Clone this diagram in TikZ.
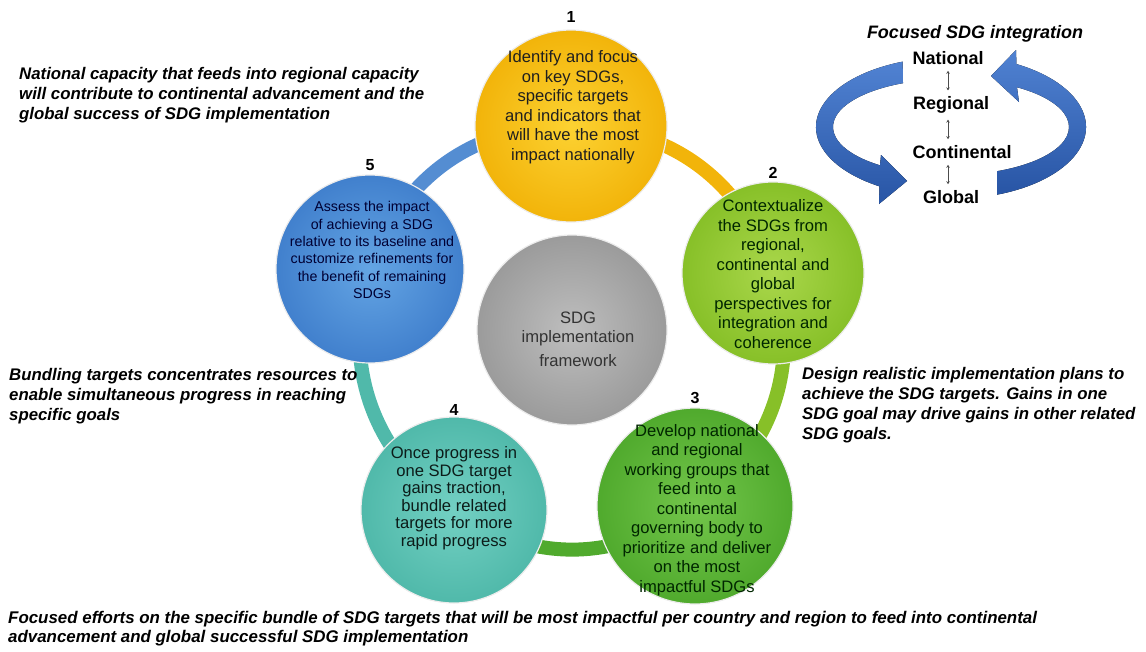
\documentclass[tikz,border=0pt]{standalone}
\usepackage{fontspec}
\setmainfont{Liberation Sans}
\usetikzlibrary{arrows.meta,positioning,calc}

\definecolor{ouroClaro}{RGB}{252,210,50}
\definecolor{ouro}{RGB}{242,180,10}
\definecolor{limaClaro}{RGB}{170,215,75}
\definecolor{lima}{RGB}{135,192,40}
\definecolor{verdeClaro}{RGB}{115,198,75}
\definecolor{verde}{RGB}{80,170,45}
\definecolor{tealClaro}{RGB}{115,208,195}
\definecolor{teal}{RGB}{80,185,170}
\definecolor{azulClaro}{RGB}{100,165,228}
\definecolor{azul}{RGB}{65,128,205}
\definecolor{cinzaClaro}{RGB}{190,190,190}
\definecolor{cinza}{RGB}{155,155,155}
\definecolor{setaClara}{RGB}{80,130,210}
\definecolor{setaEscura}{RGB}{40,85,165}

\tikzset{
    etapa/.style={
        circle,
        draw=white!85!gray,
        line width=1.2pt,
        inner sep=0pt,
        minimum size=192pt
    },
    cores/.style 2 args={inner color=#1, outer color=#2},
    textoEtapa/.style={
        align=center,
        inner sep=0pt,
        font=\fontsize{16.6}{19.5}\selectfont
    },
    numero/.style={font=\bfseries\fontsize{16}{18}\selectfont, inner sep=1pt},
    anel/.style={line width=14pt},
    nota/.style={
        align=left,
        inner sep=0pt,
        anchor=north west,
        font=\bfseries\itshape\fontsize{16.8}{20}\selectfont
    },
    nivel/.style={font=\bfseries\fontsize{18}{20}\selectfont, inner sep=1pt},
    setaNivel/.style={{Stealth[length=3pt,width=3.5pt]}-{Stealth[length=3pt,width=3.5pt]},
        line width=0.6pt, black!70, shorten <=5pt, shorten >=5pt},
    setaCurva/.style={top color=setaClara, bottom color=setaEscura, draw=none}
}

\begin{document}
\begin{tikzpicture}[x=1pt, y=-1pt]
    \useasboundingbox (0,0) rectangle (1146,651);

    % etapas do ciclo
    \coordinate (p1) at (571,126);
    \coordinate (p2) at (773,273);
    \coordinate (p3) at (695,506);
    \coordinate (p4) at (454,510);
    \coordinate (p5) at (370,269);

    % anel que liga as etapas
    \draw[anel, ouro] (p1) to[bend left=36] (p2);
    \draw[anel, lima] (p2) to[bend left=36] (p3);
    \draw[anel, verde] (p3) to[bend left=36] (p4);
    \draw[anel, teal] (p4) to[bend left=36] (p5);
    \draw[anel, azul!90!white] (p5) to[bend left=36] (p1);

    \node[etapa, cores={ouroClaro}{ouro}] (etapa1) at (p1) {};
    \node[etapa, cores={limaClaro}{lima}, minimum size=182pt] (etapa2) at (p2) {};
    \node[etapa, cores={verdeClaro}{verde}, minimum size=196pt] (etapa3) at (p3) {};
    \node[etapa, cores={tealClaro}{teal}, minimum size=186pt] (etapa4) at (p4) {};
    \node[etapa, cores={azulClaro}{azul}, minimum size=188pt] (etapa5) at (p5) {};
    \node[etapa, cores={cinzaClaro}{cinza}, minimum size=190pt] (centro) at (572,330) {};

    \node[numero, above=6pt of etapa1] (n1) {1};
    \node[numero, above=2pt of etapa2] (n2) {2};
    \node[numero, above=3pt of etapa3] (n3) {3};
    \node[numero, above=0pt of etapa4] (n4) {4};
    \node[numero, above=3pt of etapa5] (n5) {5};

    \node[textoEtapa, black!88] (texto1) at ($(etapa1)+(2,-19)$)
        {Identify and focus\\on key SDGs,\\specific targets\\and indicators that\\will have the most\\impact nationally};
    \node[textoEtapa, black!85!green] (texto2) at ($(etapa2)+(0,1)$)
        {Contextualize\\the SDGs from\\regional,\\continental and\\global\\perspectives for\\integration and\\coherence};
    \node[textoEtapa, black!85!green] (texto3) at ($(etapa3)+(2,4)$)
        {Develop national\\and regional\\working groups that\\feed into a\\continental\\governing body to\\prioritize and deliver\\on the most\\impactful SDGs};
    \node[textoEtapa, black!85!teal, font=\fontsize{16.6}{17.5}\selectfont] (texto4) at ($(etapa4)+(0,-12)$)
        {Once progress in\\one SDG target\\gains traction,\\bundle related\\targets for more\\rapid progress};
    \node[textoEtapa, black!80!blue, font=\fontsize{14.2}{17.3}\selectfont] (texto5) at ($(etapa5)+(2,-19)$)
        {Assess the impact\\of achieving a SDG\\relative to its baseline and\\customize refinements for\\the benefit of remaining\\SDGs};
    \node[textoEtapa, black!80] (textoCentro) at ($(centro)+(6,9)$)
        {SDG\\implementation\\[4pt]framework};

    % notas laterais
    \node[nota] (notaNacional) at (19,67)
        {National capacity that feeds into regional capacity\\will contribute to continental advancement and the\\global success of SDG implementation};
    \node[nota] (notaPacote) at (9,368)
        {Bundling targets concentrates resources to\\enable simultaneous progress in reaching\\specific goals};
    \node[nota] (notaPlanos) at (802,367)
        {Design realistic implementation plans to\\achieve the SDG targets. Gains in one\\SDG goal may drive gains in other related\\SDG goals.};
    \node[nota, font=\bfseries\itshape\fontsize{16.9}{19.5}\selectfont] (notaFoco) at (8,611)
        {Focused efforts on the specific bundle of SDG targets that will be most impactful per country and region to feed into continental\\advancement and global successful SDG implementation};

    % integracao entre niveis
    \coordinate (laco) at (951,127);
    \fill[setaCurva] ($(laco)+(249:135 and 70)$)
        arc[start angle=249, end angle=122, x radius=135, y radius=70]
        -- (879,204) -- (907,181) -- (881,155)
        -- ($(laco)+(127:118 and 48)$)
        arc[start angle=127, end angle=246, x radius=118, y radius=48] -- cycle;
    \fill[setaCurva] ($(laco)+(70:135 and 72)$)
        arc[start angle=70, end angle=-61, x radius=135, y radius=72]
        -- (1016,50) -- (991,76) -- (1019,102)
        -- ($(laco)+(-56:118 and 48)$)
        arc[start angle=-56, end angle=67, x radius=118, y radius=48] -- cycle;

    \node[nivel, font=\bfseries\itshape\fontsize{18}{20}\selectfont] (titulo) at (975,34) {Focused SDG integration};
    \node[nivel] (nacional) at (948,58) {National};
    \node[nivel] (regional) at (951,105) {Regional};
    \node[nivel] (continental) at (962,152) {Continental};
    \node[nivel] (global) at (951,197) {Global};
    \draw[setaNivel] (nacional.south) -- (nacional.south |- regional.north);
    \draw[setaNivel] (nacional.south |- regional.south) -- (nacional.south |- continental.north);
    \draw[setaNivel] (nacional.south |- continental.south) -- (nacional.south |- global.north);
\end{tikzpicture}
\end{document}
